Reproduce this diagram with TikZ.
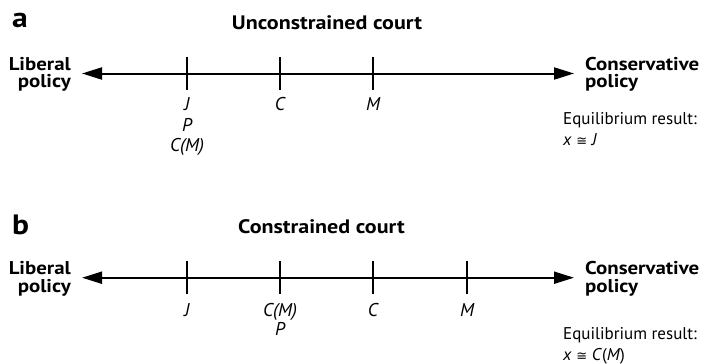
\documentclass[tikz,border=0pt]{standalone}
\usepackage{fontspec}
\setmainfont{PT Sans}[BoldFeatures={FakeStretch=1.13}]
\newfontfamily\symfont{DejaVu Sans}
\usetikzlibrary{arrows.meta}
\newcommand{\approxeq}{{\symfont\fontsize{13}{13}\selectfont ≅}}
\begin{document}
\begin{tikzpicture}[x=1pt,y=-1pt,
  axisline/.style={line width=2pt,{Triangle[length=20pt,width=12pt]}-{Triangle[length=20pt,width=12pt]}},
  tickline/.style={line width=2pt},
  panel/.style={font=\fontsize{28}{30}\selectfont\bfseries,inner sep=0,anchor=base west},
  ttl/.style={font=\fontsize{19.5}{20}\selectfont\bfseries,inner sep=0,anchor=base},
  endl/.style={font=\fontsize{18.5}{17.5}\selectfont\bfseries,inner sep=0},
  lbl/.style={font=\fontsize{18.5}{20}\selectfont\itshape,inner sep=0,anchor=base},
  eq/.style={font=\fontsize{17}{20}\selectfont,inner sep=0,anchor=base west}]
\useasboundingbox (0,0) rectangle (702,364);
% ---------- panel a ----------
\node[panel] (pa) at (12,27.3) {a};
\node[ttl] (ta) at (327,29) {Unconstrained court};
\coordinate (aL) at (82,73.5);
\coordinate (aR) at (574,73.5);
\draw[axisline] (aL) -- (aR);
\node[endl,anchor=east,align=right] (libA) at (71,74.5) {Liberal\\policy};
\node[endl,anchor=west,align=left] (conA) at (585,74.5) {Conservative\\policy};
\foreach \n/\x in {J/187,C/280,M/373}{
  \coordinate (a\n t) at (\x,57);
  \coordinate (a\n b) at (\x,90);
  \draw[tickline] (a\n t) -- (a\n b);
}
\node[lbl] (aJ) at (187,110.7) {J};
\node[lbl] (aP) at (187,131) {P};
\node[lbl] (aCM) at (187,151.5) {C(M)};
\node[lbl] (aC) at (280,110.7) {C};
\node[lbl] (aM) at (373,110.7) {M};
\node[eq] (eqA) at (563,124.5) {Equilibrium result:};
\node[eq] (resA) at (563,145.5) {\textit{x} \approxeq{} \textit{J}};
% ---------- panel b ----------
\node[panel] (pb) at (12,234.3) {b};
\node[ttl] (tb) at (321.5,233.7) {Constrained court};
\coordinate (bL) at (82,277.7);
\coordinate (bR) at (574,277.7);
\draw[axisline] (bL) -- (bR);
\node[endl,anchor=east,align=right] (libB) at (71,278.7) {Liberal\\policy};
\node[endl,anchor=west,align=left] (conB) at (585,278.7) {Conservative\\policy};
\foreach \n/\x in {J/187,CM/280,C/373,M/467}{
  \coordinate (b\n t) at (\x,261);
  \coordinate (b\n b) at (\x,294.3);
  \draw[tickline] (b\n t) -- (b\n b);
}
\node[lbl] (bJ) at (187,316.7) {J};
\node[lbl] (bCM) at (280,316.7) {C(M)};
\node[lbl] (bP) at (280,335.5) {P};
\node[lbl] (bC) at (373,316.7) {C};
\node[lbl] (bM) at (467,316.7) {M};
\node[eq] (eqB) at (563,339) {Equilibrium result:};
\node[eq] (resB) at (563,360) {\textit{x} \approxeq{} \textit{C}(\textit{M})};
\end{tikzpicture}
\end{document}
